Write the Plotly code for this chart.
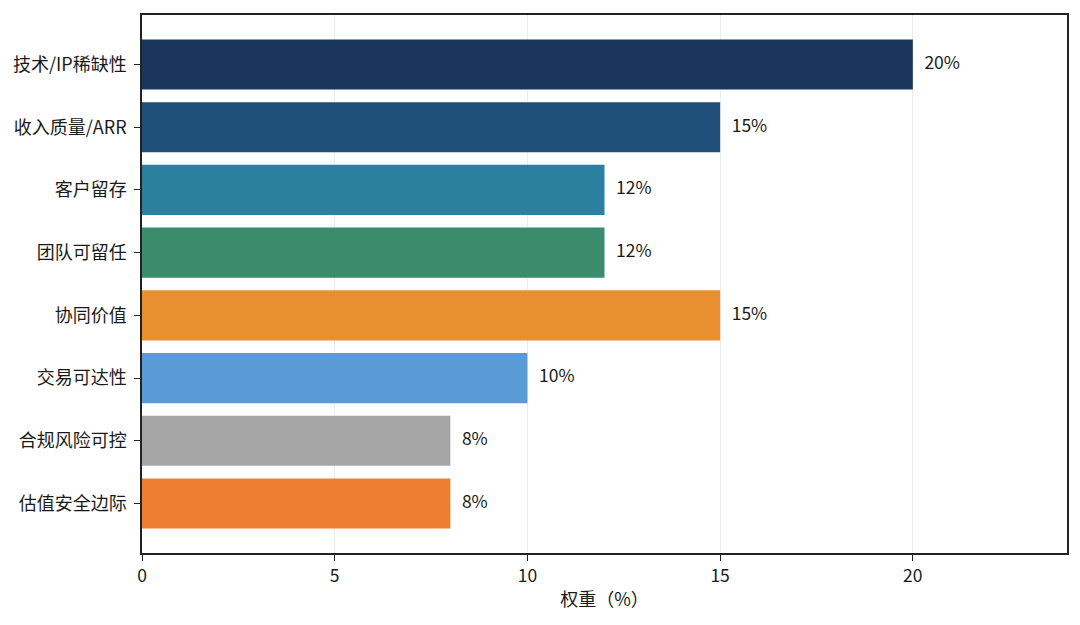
import plotly.graph_objects as go

categories = ["技术/IP稀缺性", "收入质量/ARR", "客户留存", "团队可留任",
              "协同价值", "交易可达性", "合规风险可控", "估值安全边际"]
weights = [20, 15, 12, 12, 15, 10, 8, 8]
colors = ["#1b365d", "#1f4e79", "#2a809e", "#3b8c6c",
          "#e88f30", "#5b9bd5", "#a5a5a5", "#ed7d31"]
label_texts = [f"{v}%" for v in weights]
x_ticks = [0, 5, 10, 15, 20]

font_family = "Noto Sans CJK SC, Noto Sans, sans-serif"

fig = go.Figure()
fig.add_trace(go.Bar(
    y=categories,
    x=weights,
    orientation="h",
    marker=dict(color=colors, line=dict(width=0)),
    width=0.8,
    showlegend=False,
    hoverinfo="x+y",
))
fig.add_trace(go.Scatter(
    y=categories,
    x=[v + 0.3 for v in weights],
    mode="text",
    text=label_texts,
    textposition="middle right",
    textfont=dict(size=17.5, color="#1a1a1a", family=font_family),
    showlegend=False,
    hoverinfo="skip",
    cliponaxis=False,
))

fig.update_layout(
    width=1072, height=617,
    margin=dict(l=134, r=13, t=5, b=72),
    paper_bgcolor="white",
    plot_bgcolor="white",
    font=dict(family=font_family, size=18, color="#1a1a1a"),
    bargap=0.2,
)
fig.update_xaxes(
    range=[0, 24],
    tickvals=x_ticks,
    ticks="outside", ticklen=6, tickwidth=1.2, tickcolor="#222",
    showgrid=True, gridcolor="#ececec", gridwidth=1,
    showline=True, linecolor="#222", linewidth=1.5, mirror=True,
    zeroline=False,
    tickfont=dict(size=17.5),
    title=dict(text="权重（%）", font=dict(size=18), standoff=8),
)
fig.update_yaxes(
    categoryorder="array", categoryarray=categories,
    range=[7.79, -0.79],
    ticks="outside", ticklen=6, tickwidth=1.2, tickcolor="#222",
    showgrid=False,
    showline=True, linecolor="#222", linewidth=1.5, mirror=True,
    tickfont=dict(size=18),
    ticklabelstandoff=4,
)

fig.write_html("out.html")
